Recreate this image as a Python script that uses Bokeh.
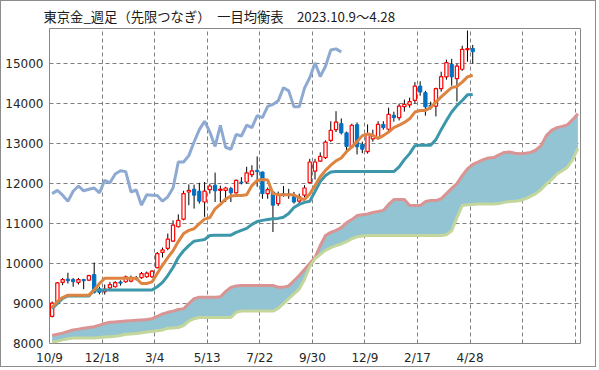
from bokeh.plotting import figure
from bokeh.models import FixedTicker
from bokeh.embed import file_html
from bokeh.resources import INLINE

title_text = "東京金_週足（先限つなぎ）　一目均衡表　2023.10.9～4.28"
x_labels = ["10/9", "12/18", "3/4", "5/13", "7/22", "9/30", "12/9", "2/17", "4/28"]
y_ticks = [8000, 9000, 10000, 11000, 12000, 13000, 14000, 15000]

open_ = [8680, 9000, 9530, 9610, 9600, 9530, 9600, 9585, 9725, 9370,
         9300, 9390, 9420, 9540, 9545, 9560, 9650, 9650, 9670, 9670,
         9900, 10280, 10380, 10560, 10920, 11110, 11790, 11860, 11810, 11540,
         11850, 11960, 11830, 11830, 11875, 11770, 12040, 12040, 12225, 12330,
         12290, 11750, 11790, 11500, 11750, 11740, 11670, 11560, 11710, 12025,
         12310, 12560, 12650, 13080, 13350, 13500, 13270, 12920, 13475, 12980,
         12800, 13120, 13160, 13480, 13360, 13710, 13650, 13925, 13970, 14080,
         14440, 14275, 13960, 13940, 14375, 14670, 14980, 14625, 14860, 15350,
         15380]
high = [9050, 9540, 9640, 9770, 9640, 9640, 9620, 9720, 10025, 9420,
        9475, 9540, 9560, 9580, 9700, 9700, 9690, 9790, 9800, 9830,
        10290, 10400, 10750, 11080, 11230, 11820, 11980, 11975, 12020, 12040,
        12000, 12275, 11950, 11920, 11920, 12100, 12160, 12420, 12460, 12680,
        12300, 11900, 11800, 11800, 11940, 11870, 11790, 11750, 11960, 12620,
        12620, 12780, 13080, 13560, 13810, 13630, 13300, 13500, 13530, 13050,
        13480, 13350, 13560, 13560, 13900, 13800, 14000, 14100, 14150, 14540,
        14560, 14320, 14050, 14400, 14800, 15100, 15120, 15000, 15450, 15830,
        15470]
low = [8650, 8980, 9460, 9500, 9420, 9475, 9360, 9560, 9250, 9230,
       9225, 9330, 9400, 9450, 9520, 9530, 9580, 9620, 9640, 9640,
       9880, 10150, 10330, 10540, 10900, 11080, 11460, 11375, 11500, 11170,
       11750, 11540, 11540, 11540, 11540, 11750, 11980, 12000, 12160, 11920,
       11620, 11620, 10790, 11440, 11670, 11620, 11500, 11500, 11660, 12010,
       12100, 12540, 12620, 13040, 13290, 13230, 12750, 12880, 12730, 12760,
       12750, 13050, 13100, 13350, 13300, 13550, 13580, 13800, 13900, 14000,
       14200, 13700, 13850, 13680, 14300, 14600, 14450, 14050, 14820, 15050,
       15000]
close = [9010, 9515, 9600, 9570, 9545, 9600, 9570, 9700, 9280, 9280,
         9360, 9475, 9525, 9510, 9665, 9650, 9615, 9750, 9760, 9810,
         10250, 10340, 10610, 10960, 11080, 11750, 11830, 11710, 11560, 11810,
         11940, 11820, 11860, 11890, 11770, 12080, 12020, 12270, 12320, 12300,
         11750, 11850, 11460, 11720, 11710, 11700, 11540, 11670, 11890, 12540,
         12540, 12680, 13040, 13330, 13540, 13270, 12930, 13460, 12920, 12860,
         13230, 13190, 13480, 13400, 13730, 13650, 13940, 13980, 14050, 14440,
         14290, 13920, 13920, 14375, 14675, 15025, 14670, 14940, 15360, 15380,
         15300]

tenkan = [8900, 9050, 9150, 9210, 9210, 9210, 9210, 9210, 9340, 9500,
          9630, 9630, 9630, 9630, 9630, 9630, 9630, 9500, 9500, 9540,
          9750, 9960, 10150, 10320, 10550, 10750, 10830, 10870, 11000, 11110,
          11150, 11370, 11480, 11610, 11690, 11700, 11700, 11720, 11950, 12080,
          12100, 12090, 11750, 11720, 11720, 11720, 11720, 11640, 11600, 11740,
          11950, 12170, 12330, 12460, 12570, 12640, 12800, 12920, 13050, 13200,
          13240, 13210, 13130, 13200, 13290, 13400, 13460, 13530, 13620, 13790,
          13830, 13830, 13900, 14040, 14170, 14290, 14400, 14430, 14540, 14670,
          14710]
kijun = [8870, 9000, 9130, 9190, 9190, 9190, 9190, 9190, 9340, 9340,
         9340, 9340, 9340, 9340, 9340, 9340, 9340, 9340, 9340, 9340,
         9420, 9530, 9700, 9900, 10150, 10320, 10450, 10560, 10580, 10600,
         10700, 10710, 10710, 10710, 10710, 10780, 10830, 10880, 10980, 11050,
         11080, 11100, 11120, 11130, 11160, 11250, 11400, 11480, 11530, 11560,
         11800, 12050, 12200, 12290, 12300, 12300, 12300, 12300, 12300, 12300,
         12300, 12300, 12300, 12300, 12300, 12300, 12420, 12600, 12750, 12950,
         12960, 12960, 12960, 13100, 13350, 13580, 13790, 13950, 14080, 14220,
         14230]
chikou = [11750, 11830, 11710, 11560, 11810, 11940, 11820, 11860, 11890, 11770,
          12080, 12020, 12240, 12320, 12300, 11790, 11840, 11460, 11720, 11710,
          11700, 11560, 11670, 11890, 12540, 12540, 12700, 13040, 13350, 13560,
          13290, 12930, 13460, 12910, 12860, 13230, 13190, 13460, 13400, 13700,
          13650, 13930, 13980, 14070, 14400, 14320, 13920, 13920, 14390, 14650,
          15020, 14680, 14935, 15340, 15370, 15290]
senkou_a = [8200, 8230, 8260, 8300, 8340, 8360, 8380, 8400, 8420, 8460,
            8500, 8530, 8540, 8550, 8560, 8570, 8580, 8590, 8600, 8620,
            8680, 8740, 8780, 8810, 8850, 8870, 9000, 9120, 9160, 9160,
            9160, 9160, 9170, 9300, 9400, 9440, 9450, 9450, 9450, 9450,
            9450, 9450, 9450, 9410, 9410, 9440, 9570, 9700, 9850, 10000,
            10150, 10450, 10700, 10780, 10830, 10900, 11020, 11100, 11200, 11220,
            11240, 11280, 11300, 11330, 11480, 11600, 11600, 11600, 11450, 11450,
            11450, 11550, 11575, 11575, 11620, 11750, 11880, 12000, 12200, 12370,
            12480, 12540, 12600, 12640, 12650, 12720, 12780, 12790, 12760, 12745,
            12760, 12780, 12840, 12950, 13200, 13330, 13400, 13430, 13470, 13600,
            13750]
senkou_b = [8030, 8060, 8090, 8120, 8137, 8137, 8137, 8137, 8140, 8150,
            8160, 8170, 8180, 8200, 8230, 8240, 8250, 8270, 8290, 8300,
            8320, 8340, 8380, 8390, 8400, 8450, 8560, 8620, 8650, 8650,
            8650, 8650, 8650, 8650, 8650, 8780, 8810, 8810, 8810, 8810,
            8810, 8810, 8810, 8880, 9000, 9120, 9240, 9360, 9600, 9920,
            10120, 10230, 10330, 10400, 10450, 10490, 10550, 10620, 10670, 10690,
            10700, 10700, 10700, 10700, 10700, 10700, 10700, 10700, 10700, 10700,
            10700, 10700, 10700, 10700, 10700, 10720, 10820, 11150, 11450, 11470,
            11480, 11490, 11490, 11490, 11490, 11500, 11530, 11550, 11560, 11575,
            11620, 11680, 11750, 11850, 11990, 12100, 12240, 12320, 12410, 12600,
            12880]

n_slots = len(senkou_a)  # category slots on the x axis
xc = [i + 0.5 for i in range(len(close))]
xk = [i + 0.5 for i in range(len(chikou))]
xs = [i + 0.5 for i in range(len(senkou_a))]

p = figure(width=596, height=367, x_range=(0, n_slots), y_range=(8000, 15880),
           output_backend="svg", toolbar_location=None,
           min_border_left=48, min_border_right=17, min_border_top=27, min_border_bottom=25)
p.styles = {"border": "1px solid #8c8c8c"}

p.title.text = title_text
p.title.align = "left"
p.title.offset = -6
p.title.standoff = 5
p.title.text_font = "Noto Sans CJK JP"
p.title.text_font_size = "13.3px"
p.title.text_font_style = "normal"
p.title.text_color = "#1a1a1a"

p.outline_line_color = "#878787"
p.outline_line_width = 1
p.background_fill_color = "white"
p.border_fill_color = "white"

# grid
p.xgrid.ticker = FixedTicker(ticks=list(range(10, n_slots, 10)))
p.ygrid.ticker = FixedTicker(ticks=y_ticks[1:])
for g in (p.xgrid, p.ygrid):
    g.grid_line_color = "#7f7f7f"
    g.grid_line_dash = "4 3"
    g.grid_line_width = 1

# axes
p.xaxis.ticker = FixedTicker(ticks=[10 * k for k in range(len(x_labels))])
p.xaxis.major_label_overrides = {10 * k: lab for k, lab in enumerate(x_labels)}
p.yaxis.ticker = FixedTicker(ticks=y_ticks)
for ax in (p.xaxis, p.yaxis):
    ax.axis_line_color = None
    ax.major_tick_line_color = None
    ax.minor_tick_line_color = None
    ax.major_tick_out = 0
    ax.major_tick_in = 0
    ax.major_label_text_font = "DejaVu Sans"
    ax.major_label_text_font_size = "12px"
    ax.major_label_text_color = "#262626"
p.xaxis.major_label_standoff = 7
p.yaxis.major_label_standoff = 6

# cloud
p.varea(x=xs, y1=senkou_b, y2=senkou_a, fill_color="#93C4D4", fill_alpha=1)
p.line(xs, senkou_a, line_color="#D99493", line_width=3)
p.line(xs, senkou_b, line_color="#C3D69B", line_width=3)

# candles
up = [i for i in range(len(close)) if close[i] >= open_[i]]
dn = [i for i in range(len(close)) if close[i] < open_[i]]
p.segment(x0=xc, y0=low, x1=xc, y1=high, line_color="black", line_width=1)
p.vbar(x=[xc[i] for i in dn], width=0.62, top=[open_[i] for i in dn],
       bottom=[close[i] for i in dn], fill_color="#0070C0", line_color="#0070C0", line_width=1)
p.vbar(x=[xc[i] for i in up], width=0.62, top=[close[i] for i in up],
       bottom=[open_[i] for i in up], fill_color="white", line_color="#FF0000", line_width=1.2)

# lines
p.line(xk, chikou, line_color="#8EA9D2", line_width=3)
p.line(xc, kijun, line_color="#3C97AA", line_width=3)
p.line(xc, tenkan, line_color="#DE8441", line_width=3)

open("out.html", "w").write(file_html(p, INLINE))
